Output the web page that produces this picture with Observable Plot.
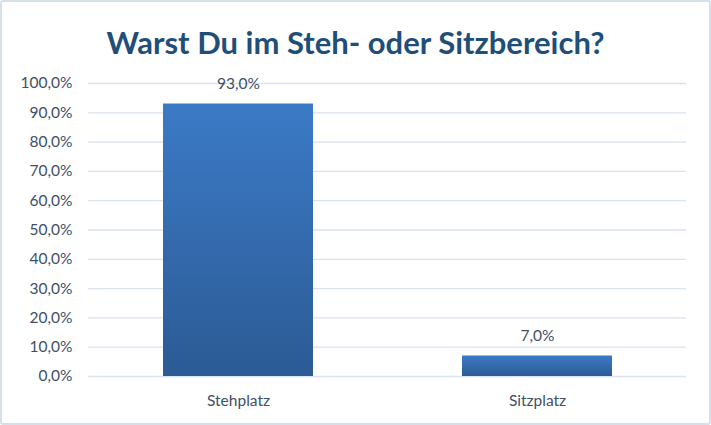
<!DOCTYPE html>
<html><head><meta charset="utf-8">
<script src="https://cdn.jsdelivr.net/npm/d3@7"></script>
<script src="https://cdn.jsdelivr.net/npm/@observablehq/plot@0.6"></script>
<style>
body{margin:0;background:#fff;}
#frame{position:relative;width:711px;height:425px;box-sizing:border-box;border:2px solid #d6e0ec;border-radius:3px;background:#fff;overflow:hidden;font-family:Lato,"Open Sans",sans-serif;}
#title{position:absolute;top:21px;left:0;width:707px;text-align:center;font-size:31px;font-weight:bold;color:#1f4e79;}
#chart{position:absolute;top:60px;left:0;}
</style></head>
<body>
<div id="frame"><div id="title">Warst Du im Steh- oder Sitzbereich?</div><div id="chart"></div></div>
<script>
const categories = ["Stehplatz", "Sitzplatz"];
const values = [93.0, 7.0];
const yTicks = [0,10,20,30,40,50,60,70,80,90,100];

const data = categories.map((c,i)=>({cat:c, val:values[i]}));
const fmt = d => d.toFixed(1).replace(".", ",") + "%";

const defs = () => {
  const ns = "http://www.w3.org/2000/svg";
  const d = document.createElementNS(ns, "defs");
  d.innerHTML = `<linearGradient id="barGrad" x1="0" y1="0" x2="0" y2="1">
    <stop offset="0" stop-color="#3b7ac6"/><stop offset="1" stop-color="#2c5b95"/></linearGradient>`;
  return d;
};

const plot = Plot.plot({
  width: 707,
  height: 354,
  marginLeft: 86,
  marginRight: 23,
  marginTop: 21,
  marginBottom: 40,
  style: {fontFamily: "Lato, 'Open Sans', sans-serif", fontSize: "15.5px", color: "#3e4f66", background: "transparent"},
  x: {domain: categories, paddingInner: 0.5, paddingOuter: 0.25, label: null, tickSize: 0, tickPadding: 18},
  y: {domain: [0, 100], ticks: yTicks, tickFormat: fmt, label: null, tickSize: 0, tickPadding: 16},
  marks: [
    defs,
    Plot.ruleY(yTicks, {stroke: "#d9e2ee", strokeWidth: 1.3}),
    Plot.barY(data, {x: "cat", y: "val", fill: "url(#barGrad)"}),
    Plot.text(data, {x: "cat", y: "val", text: d => fmt(d.val), dy: -20, fill: "#3e4f66", fontSize: 15.5})
  ]
});
document.getElementById("chart").appendChild(plot);
</script>
</body></html>
